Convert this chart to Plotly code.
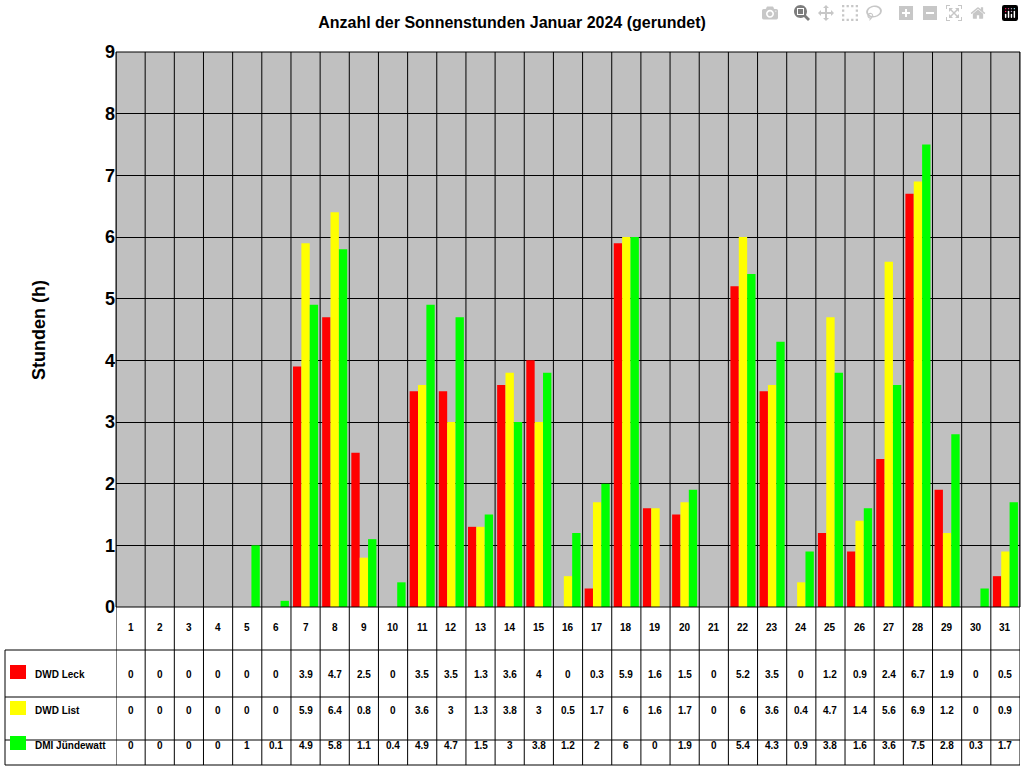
import plotly.graph_objects as go

days = list(range(1, 32))
leck = [0,0,0,0,0,0,3.9,4.7,2.5,0,3.5,3.5,1.3,3.6,4,0,0.3,5.9,1.6,1.5,0,5.2,3.5,0,1.2,0.9,2.4,6.7,1.9,0,0.5]
lst = [0,0,0,0,0,0,5.9,6.4,0.8,0,3.6,3,1.3,3.8,3,0.5,1.7,6,1.6,1.7,0,6,3.6,0.4,4.7,1.4,5.6,6.9,1.2,0,0.9]
dmi = [0,0,0,0,1,0.1,4.9,5.8,1.1,0.4,4.9,4.7,1.5,3,3.8,1.2,2,6,0,1.9,0,5.4,4.3,0.9,3.8,1.6,3.6,7.5,2.8,0.3,1.7]
names = ["DWD Leck", "DWD List", "DMI Jündewatt"]
colors = ["#ff0000", "#ffff00", "#00ff00"]
series = [leck, lst, dmi]

fig = go.Figure()
for n, c, s in zip(names, colors, series):
    fig.add_bar(x=days, y=s, name=n, marker_color=c, marker_line_width=0)

PT, PB, PL, PR = 52, 607, 116, 1020
H = PB - PT
W = PR - PL
def py(p): return (PB - p) / H
def px(p): return (p - PL) / W

shapes = []
bottom = py(765)
for i in range(32):
    shapes.append(dict(type="line", xref="x", yref="paper", x0=i + 0.5, x1=i + 0.5,
                       y0=bottom, y1=1, line=dict(color="black", width=1)))
for yp in [650, 697, 740, 765]:
    shapes.append(dict(type="line", xref="paper", yref="paper", x0=px(5), x1=1,
                       y0=py(yp), y1=py(yp), line=dict(color="black", width=1)))
shapes.append(dict(type="line", xref="paper", yref="paper", x0=px(5), x1=px(5),
                   y0=py(650), y1=py(765), line=dict(color="black", width=1)))
shapes.append(dict(type="rect", xref="paper", yref="paper", x0=0, x1=1, y0=0, y1=1,
                   line=dict(color="black", width=1)))

annots = []
f = dict(family="Arial", size=10, color="black")
for d in days:
    annots.append(dict(x=d, y=py(635), xref="x", yref="paper", text="<b>%d</b>" % d,
                       showarrow=False, font=f))
rowy = [682, 718, 753]
for r, s in enumerate(series):
    for d, v in zip(days, s):
        annots.append(dict(x=d, y=py(rowy[r]), xref="x", yref="paper", text="<b>%g</b>" % v,
                           showarrow=False, font=f))
    shapes.append(dict(type="rect", xref="paper", yref="paper", x0=px(10), x1=px(26),
                       y0=py(rowy[r] - 3), y1=py(rowy[r] - 17), fillcolor=colors[r],
                       line=dict(width=0)))
    annots.append(dict(x=px(33), y=py(rowy[r]), xref="paper", yref="paper", text="<b>%s</b>" % names[r],
                       showarrow=False, xanchor="left", font=f))
annots.append(dict(x=px(27), y=py(330), xref="paper", yref="paper", text="<b>Stunden (h)</b>",
                   textangle=-90, showarrow=False, font=dict(family="Arial", size=18, color="black")))

fig.update_layout(
    width=1024, height=768,
    margin=dict(l=PL, r=1024 - PR, t=PT, b=768 - PB),
    paper_bgcolor="white", plot_bgcolor="#c0c0c0",
    title=dict(text="<b>Anzahl der Sonnenstunden Januar 2024 (gerundet)</b>", x=0.5, xanchor="center",
               y=1 - 22 / 768, yanchor="middle", font=dict(family="Arial", size=16, color="black")),
    showlegend=False, barmode="group", bargap=0.14, bargroupgap=0,
    xaxis=dict(range=[0.5, 31.5], showticklabels=False, showgrid=False, zeroline=False, ticks=""),
    yaxis=dict(range=[0, 9], dtick=1, showgrid=True, gridcolor="black", gridwidth=1, zeroline=False,
               tickfont=dict(family="Arial", size=18, color="black"), tickprefix="<b>", ticksuffix="</b>"),
    shapes=shapes, annotations=annots,
)
fig.write_html("out.html", post_script="document.body.style.margin='0';document.body.style.overflow='hidden';")
